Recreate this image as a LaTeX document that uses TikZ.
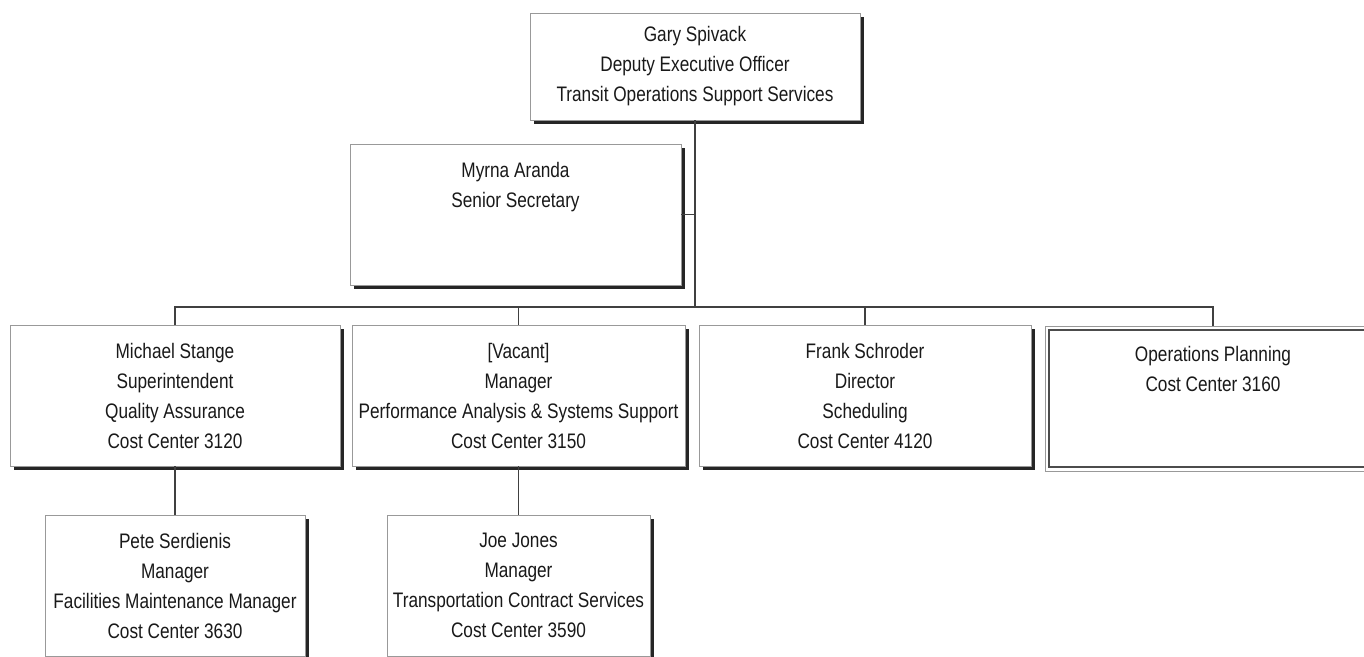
\documentclass[tikz,border=0pt]{standalone}
\usepackage{fontspec}
\setmainfont{Liberation Sans}[FakeStretch=0.82]
\usetikzlibrary{shadows}

\begin{document}
\begin{tikzpicture}[
    x=1pt, y=-1pt,
    every node/.style={font=\fontsize{21}{30}\selectfont, text=black!90, align=center,
                       inner sep=0pt, outer sep=0pt},
    orgbox/.style={rectangle, draw=black!40, line width=0.6pt, fill=white,
                   drop shadow={shadow xshift=4pt, shadow yshift=-4pt, fill=black!85, opacity=1},
                   minimum width=#1, minimum height=141pt},
    orgbox/.default=332pt,
    openbox/.style={rectangle, draw=black!40, line width=0.6pt, fill=white,
                    minimum width=336pt, minimum height=145pt,
                    path picture={\draw[black!70, line width=1.2pt]
                        ([shift={(4pt,-4pt)}]path picture bounding box.north west) rectangle
                        ([shift={(-4pt,4pt)}]path picture bounding box.south east);}},
    conn/.style={draw=black!75, line width=1.1pt},
]
\useasboundingbox (0,0) rectangle (1364,656);
\clip (0,0) rectangle (1364,656);

\node[orgbox=330pt, minimum height=107pt] (gary) at (695, 66.5) {Gary Spivack \\ Deputy Executive Officer \\ Transit Operations Support Services};
\node[orgbox=331pt] (myrna) at (515.5, 214.5) {Myrna Aranda \\ Senior Secretary \\ \mbox{} \\ \mbox{}};

\node[orgbox=330pt] (stange)   at (175, 395.5) {Michael Stange \\ Superintendent \\ Quality Assurance \\ Cost Center 3120};
\node[orgbox=333pt] (vacant)   at (518.5, 395.5) {[Vacant] \\ Manager \\ Performance Analysis \& Systems Support \\ Cost Center 3150};
\node[orgbox=332pt] (schroder) at (865, 395.5) {Frank Schroder \\ Director \\ Scheduling \\ Cost Center 4120};
\node[openbox]      (planning) at (1213, 398.5) {Operations Planning \\ Cost Center 3160 \\ \mbox{} \\ \mbox{}};

\node[orgbox=260pt] (serdienis) at (175, 585.5) {Pete Serdienis \\ Manager \\ Facilities Maintenance Manager \\ Cost Center 3630};
\node[orgbox=263pt] (jones)     at (518.5, 585.5) {Joe Jones \\ Manager \\ Transportation Contract Services \\ Cost Center 3590};

\coordinate (bus) at (695, 307);
\draw[conn] (gary.south) -- (bus);
\draw[conn] (myrna.east) -- (myrna.east -| gary.south);
\draw[conn] (stange.north) |- (bus) -| (planning.north);
\draw[conn] (vacant.north) -- (vacant.north |- bus);
\draw[conn] (schroder.north) -- (schroder.north |- bus);
\draw[conn] (stange.south) -- (serdienis.north);
\draw[conn] (vacant.south) -- (jones.north);
\end{tikzpicture}
\end{document}
